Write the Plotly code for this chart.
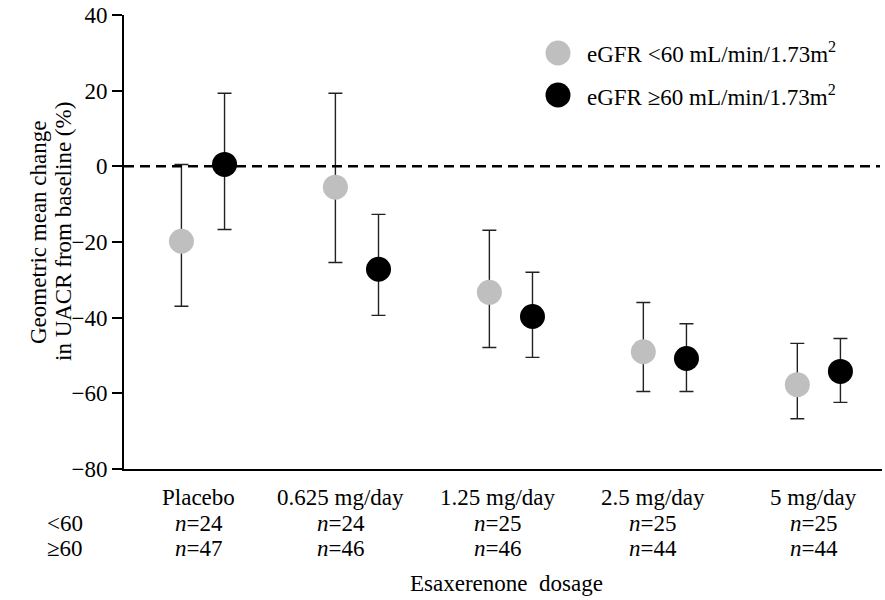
import plotly.graph_objects as go

# ---- data ----
categories = ["Placebo", "0.625 mg/day", "1.25 mg/day", "2.5 mg/day", "5 mg/day"]
n_lt60 = [24, 24, 25, 25, 25]
n_ge60 = [47, 46, 46, 44, 44]

lt60_mean = [-19.8, -5.5, -33.3, -49.0, -57.7]
lt60_upper = [0.5, 19.3, -16.9, -36.0, -46.8]
lt60_lower = [-37.0, -25.4, -47.9, -59.5, -66.7]

ge60_mean = [0.5, -27.2, -39.7, -50.8, -54.2]
ge60_upper = [19.3, -12.7, -28.0, -41.6, -45.5]
ge60_lower = [-16.7, -39.4, -50.5, -59.5, -62.4]

y_ticks = [40, 20, 0, -20, -40, -60, -80]

# ---- style ----
FONT = "Liberation Serif"
FS = 23
GRAY = "#BFBFBF"
OFFSET = 0.14
label_xshift = [-4, -16, -13, -12, -5]

idx = list(range(len(categories)))
x_lt = [i - OFFSET for i in idx]
x_ge = [i + OFFSET for i in idx]

fig = go.Figure()

def add_series(x, mean, upper, lower, color, name):
    fig.add_trace(go.Scatter(
        x=x, y=mean, mode="markers", name=name, showlegend=False,
        marker=dict(size=25, color=color, line=dict(width=0)),
        error_y=dict(type="data", symmetric=False,
                     array=[u - m for u, m in zip(upper, mean)],
                     arrayminus=[m - l for m, l in zip(mean, lower)],
                     color="#222222", thickness=1.4, width=7),
    ))

add_series(x_lt, lt60_mean, lt60_upper, lt60_lower, GRAY, "eGFR <60")
add_series(x_ge, ge60_mean, ge60_upper, ge60_lower, "black", "eGFR ≥60")

L, R, T, B = 124, 3, 15, 131
W, H = 885, 600
pw, ph = W - L - R, H - T - B

def px(xp):
    return (xp - L) / pw

def py(yp):
    return (H - B - yp) / ph

shapes = [
    dict(type="line", xref="paper", yref="y", x0=0, x1=px(880), y0=0, y1=0,
         line=dict(color="black", width=2.5, dash="10px,6px")),
]
# legend symbols
for cy, col in [(53, GRAY), (95, "black")]:
    shapes.append(dict(type="circle", xref="paper", yref="paper",
                       xsizemode="pixel", ysizemode="pixel",
                       xanchor=px(558), yanchor=py(cy),
                       x0=-12.5, x1=12.5, y0=-12.5, y1=12.5,
                       fillcolor=col, line=dict(width=0)))

txtfont = dict(size=FS, family=FONT, color="black")
annotations = []
leg_texts = ["eGFR &lt;60 mL/min/1.73m<sup>2</sup>", "eGFR ≥60 mL/min/1.73m<sup>2</sup>"]
for cy, t in zip([53, 95], leg_texts):
    annotations.append(dict(xref="paper", yref="paper", x=px(585), y=py(cy),
                            xanchor="left", yanchor="middle", text=t,
                            showarrow=False, font=txtfont))

for i, (c, a, b) in enumerate(zip(categories, n_lt60, n_ge60)):
    for txt, yy in [(c, 497), (f"<i>n</i>={a}", 523), (f"<i>n</i>={b}", 548)]:
        annotations.append(dict(xref="x", yref="paper", x=i, y=py(yy),
                                xshift=label_xshift[i], xanchor="center", yanchor="middle",
                                text=txt, showarrow=False, font=txtfont))

for txt, yy in [("&lt;60", 523), ("≥60", 548)]:
    annotations.append(dict(xref="paper", yref="paper", x=px(45), y=py(yy),
                            xanchor="left", yanchor="middle", text=txt, showarrow=False,
                            font=txtfont))

annotations.append(dict(xref="paper", yref="paper", x=px(506), y=py(583),
                        xanchor="center", yanchor="middle", text="Esaxerenone  dosage",
                        showarrow=False, font=txtfont))

for txt, xx in [("Geometric mean change", 38), ("in UACR from baseline (%)", 63)]:
    annotations.append(dict(xref="paper", yref="paper", x=px(xx), y=py(232),
                            xanchor="center", yanchor="middle", text=txt, textangle=-90,
                            showarrow=False, font=txtfont))

fig.update_layout(
    width=W, height=H,
    margin=dict(l=L, r=R, t=T, b=B),
    paper_bgcolor="white", plot_bgcolor="white",
    font=dict(family=FONT, size=FS, color="black"),
    xaxis=dict(range=[-0.513, 4.41], showline=True, linewidth=2, linecolor="black",
               showgrid=False, zeroline=False, showticklabels=False, ticks=""),
    yaxis=dict(range=[-80, 40], tickvals=y_ticks, ticks="outside", ticklen=10,
               tickwidth=2, tickcolor="black", showline=True, linewidth=2,
               linecolor="black", showgrid=False, zeroline=False,
               tickfont=dict(size=FS, family=FONT, color="black")),
    shapes=shapes, annotations=annotations, showlegend=False,
)

fig.write_html("out.html")
